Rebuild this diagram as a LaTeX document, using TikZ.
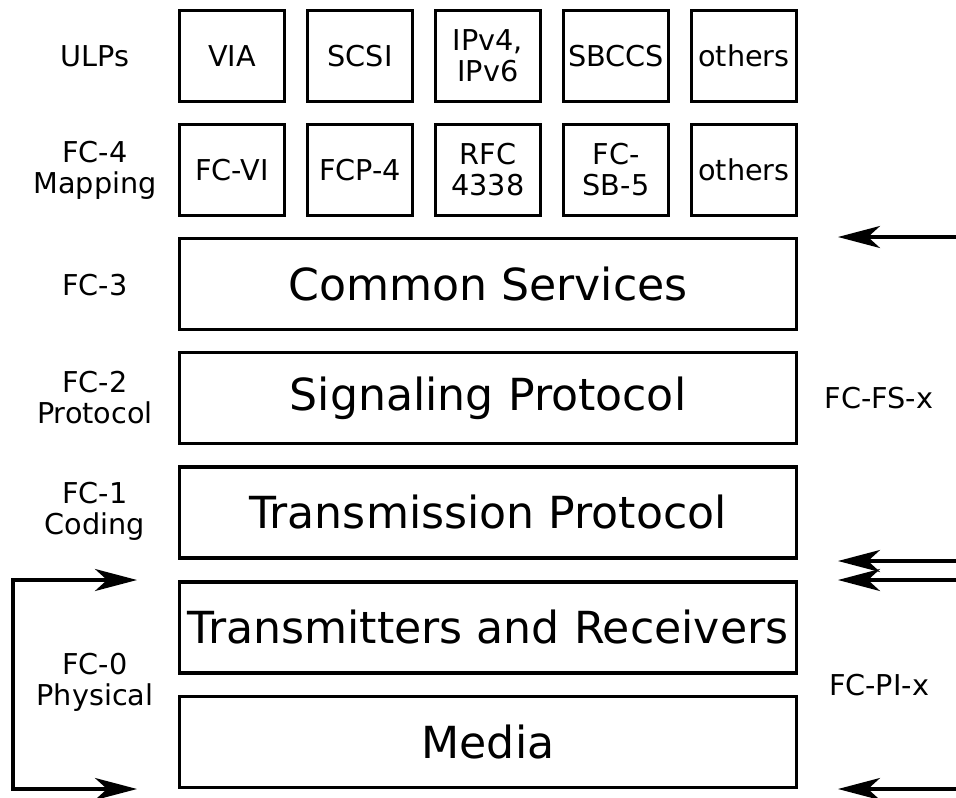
\documentclass[tikz,border=0pt]{standalone}
\usepackage{fontspec}
\setmainfont{DejaVu Sans}
\usetikzlibrary{arrows.meta,positioning}

\begin{document}
\begin{tikzpicture}[x=1pt,y=-1pt,
    fctip/.tip={Stealth[length=42pt,width=22pt,inset=12pt]},
    small/.style={draw,line width=3.4pt,minimum width=105pt,minimum height=91pt,
      inner sep=0pt,align=center,font=\fontsize{28.7}{31}\selectfont},
    wide/.style={small,minimum width=617pt,font=\fontsize{44.2}{50}\selectfont},
    lbl/.style={inner sep=0pt,align=center,font=\fontsize{28.7}{31}\selectfont},
    arr/.style={line width=3.4pt,-fctip}]
        \useasboundingbox (0,0) rectangle (956,798);
        % upper layer protocols and mappings
        \node[small] (via) at (232,56) {VIA};
        \node[small] (scsi) at (360,56) {SCSI};
        \node[small] (ip) at (488,56) {IPv4,\\IPv6};
        \node[small] (sbccs) at (616,56) {SBCCS};
        \node[small] (oth1) at (744,56) {others};
        \node[small] (fcvi) at (232,170) {FC-VI};
        \node[small] (fcp) at (360,170) {FCP-4};
        \node[small] (rfc) at (488,170) {RFC\\4338};
        \node[small] (fcsb) at (616,170) {FC-\\SB-5};
        \node[small] (oth2) at (744,170) {others};
        % stack
        \node[wide] (common) at (488,284) {Common Services};
        \node[wide] (signal) at (488,398) {Signaling Protocol};
        \node[wide] (trans) at (488,512.5) {Transmission Protocol};
        \node[wide] (txrx) at (488,627.5) {Transmitters and Receivers};
        \node[wide] (media) at (488,742) {Media};
        % levels
        \node[lbl] (ulp) at (95,56) {ULPs};
        \node[lbl] (fc4) at (95,170) {FC-4\\Mapping};
        \node[lbl] (fc3) at (95,285) {FC-3};
        \node[lbl] (fc2) at (95,398) {FC-2\\Protocol};
        \node[lbl] (fc1) at (95,511) {FC-1\\Coding};
        \node[lbl] (fc0) at (95,682) {FC-0\\Physical};
        \node[lbl] (fs) at (879,398) {FC-FS-x};
        \node[lbl] (pi) at (879,685) {FC-PI-x};
        % brackets
        \coordinate (fsA) at (956,237);
        \coordinate (fsB) at (956,561);
        \coordinate (piA) at (956,580);
        \coordinate (piB) at (956,789);
        \coordinate (fsAt) at (838,237);
        \coordinate (fsBt) at (838,561);
        \coordinate (piAt) at (838,580);
        \coordinate (piBt) at (838,789);
        \coordinate (phA) at (137,580);
        \coordinate (phB) at (137,789);
        \coordinate (phL) at (13,580);
        \coordinate (phM) at (13,789);
        \draw[arr] (fsA) -- (fsAt);
        \draw[arr] (fsB) -- (fsBt);
        \draw[arr] (piA) -- (piAt);
        \draw[arr] (piB) -- (piBt);
        \draw[line width=3.4pt,fctip-fctip] (phA) -- (phL) -- (phM) -- (phB);
\end{tikzpicture}
\end{document}
